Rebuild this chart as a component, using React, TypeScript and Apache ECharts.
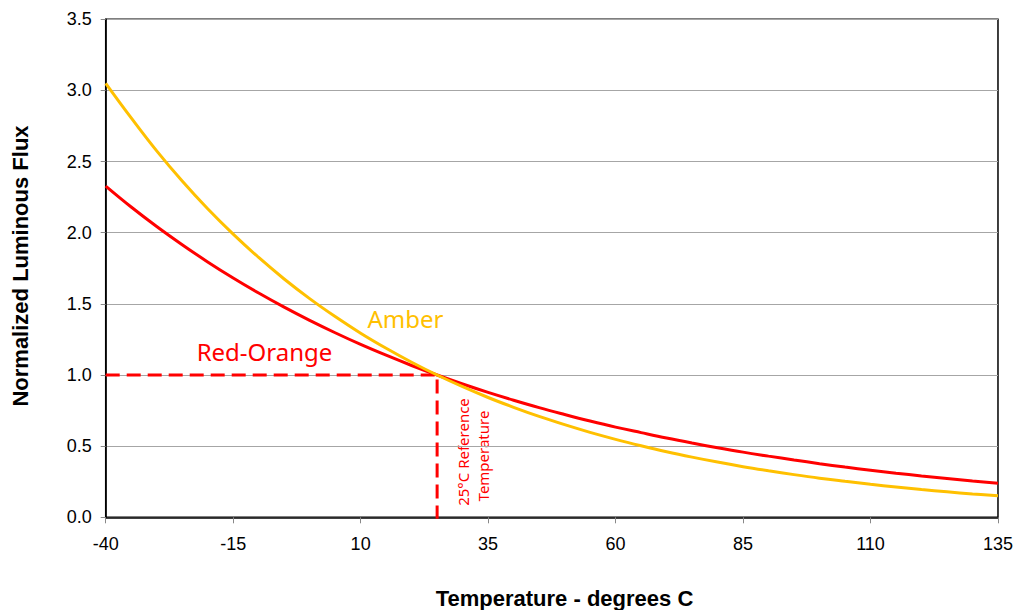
import React, { useEffect, useRef } from "react";
import * as echarts from "echarts";

const temps = [-40, -35, -30, -25, -20, -15, -10, -5, 0, 5, 10, 15, 20, 25, 30, 35, 40, 45, 50, 55, 60, 65, 70, 75, 80, 85, 90, 95, 100, 105, 110, 115, 120, 125, 130, 135];
const redOrange = [2.328, 2.181, 2.044, 1.916, 1.795, 1.682, 1.576, 1.477, 1.384, 1.297, 1.215, 1.139, 1.067, 1.0, 0.937, 0.878, 0.823, 0.771, 0.723, 0.677, 0.634, 0.595, 0.557, 0.522, 0.489, 0.458, 0.43, 0.403, 0.377, 0.353, 0.331, 0.31, 0.291, 0.273, 0.255, 0.239];
const amber = [3.05, 2.807, 2.575, 2.363, 2.168, 1.99, 1.826, 1.675, 1.537, 1.411, 1.294, 1.188, 1.09, 1.0, 0.918, 0.842, 0.773, 0.709, 0.651, 0.597, 0.548, 0.503, 0.461, 0.423, 0.388, 0.356, 0.327, 0.3, 0.275, 0.253, 0.232, 0.213, 0.195, 0.179, 0.164, 0.151];
const refLine = [[-40, 1.0], [25, 1.0], [25, -0.02]];
const xMin = -40;
const xMax = 135;
const xStep = 25;
const yMin = 0;
const yMax = 3.5;
const yStep = 0.5;

const RED = "#FF0000";
const AMBER = "#FFC000";

export default function App() {
  const ref = useRef<HTMLDivElement>(null);
  useEffect(() => {
    if (!ref.current) return;
    const chart = echarts.init(ref.current, null, { renderer: "svg" });
    const shift = (t: number) => t - xMin;
    chart.setOption({
      animation: false,
      grid: { left: 105.7, right: 17.3, top: 19.3, bottom: 92.7, show: true, borderColor: "#000", borderWidth: 1.5 },
      xAxis: {
        type: "value",
        min: 0,
        max: xMax - xMin,
        interval: xStep,
        axisLine: { show: true, onZero: false, lineStyle: { color: "#000", width: 1.5 } },
        axisTick: { show: true, length: 6, lineStyle: { color: "#888" } },
        axisLabel: {
          margin: 18,
          color: "#000",
          fontFamily: "Liberation Sans, Arial, sans-serif",
          fontSize: 18,
          formatter: (v: number) => String(v + xMin),
        },
        splitLine: { show: false },
      },
      yAxis: {
        type: "value",
        min: yMin,
        max: yMax,
        interval: yStep,
        axisLine: { show: true, lineStyle: { color: "#000", width: 1.5 } },
        axisTick: { show: true, length: 5, lineStyle: { color: "#888" } },
        axisLabel: {
          margin: 14,
          color: "#000",
          fontFamily: "Liberation Sans, Arial, sans-serif",
          fontSize: 18,
          formatter: (v: number) => v.toFixed(1),
        },
        splitLine: { show: true, lineStyle: { color: "#a6a6a6", width: 1 } },
      },
      series: [
        {
          name: "Reference",
          type: "line",
          data: refLine.map(([t, v]) => [shift(t), v]),
          symbol: "none",
          lineStyle: { color: RED, width: 3, type: [14, 7] },
          z: 3,
        },
        {
          name: "Red-Orange",
          type: "line",
          data: temps.map((t, i) => [shift(t), redOrange[i]]),
          symbol: "none",
          smooth: 0.4,
          lineStyle: { color: RED, width: 3 },
          z: 4,
        },
        {
          name: "Amber",
          type: "line",
          data: temps.map((t, i) => [shift(t), amber[i]]),
          symbol: "none",
          smooth: 0.4,
          lineStyle: { color: AMBER, width: 3 },
          z: 5,
        },
      ],
      graphic: [
        {
          type: "text",
          x: 20,
          y: 266,
          rotation: Math.PI / 2,
          style: {
            text: "Normalized Luminous Flux",
            font: "bold 22px 'Liberation Sans', Arial, sans-serif",
            fill: "#000",
            align: "center",
            verticalAlign: "middle",
          },
        },
        {
          type: "text",
          x: 564.5,
          y: 598,
          style: {
            text: "Temperature - degrees C",
            font: "bold 22px 'Liberation Sans', Arial, sans-serif",
            fill: "#000",
            align: "center",
            verticalAlign: "middle",
          },
        },
        {
          type: "text",
          x: 405.5,
          y: 318,
          style: {
            text: "Amber",
            font: "24px 'Noto Sans', 'Open Sans', sans-serif",
            fill: AMBER,
            align: "center",
            verticalAlign: "middle",
          },
        },
        {
          type: "text",
          x: 264.5,
          y: 351,
          style: {
            text: "Red-Orange",
            font: "24px 'Noto Sans', 'Open Sans', sans-serif",
            fill: RED,
            align: "center",
            verticalAlign: "middle",
          },
        },
        {
          type: "text",
          x: 463,
          y: 452,
          rotation: Math.PI / 2,
          style: {
            text: "25°C Reference",
            font: "15px 'Noto Sans', 'Open Sans', sans-serif",
            fill: RED,
            align: "center",
            verticalAlign: "middle",
          },
        },
        {
          type: "text",
          x: 483,
          y: 456,
          rotation: Math.PI / 2,
          style: {
            text: "Temperature",
            font: "15px 'Noto Sans', 'Open Sans', sans-serif",
            fill: RED,
            align: "center",
            verticalAlign: "middle",
          },
        },
      ],
    });
    return () => chart.dispose();
  }, []);
  return (
    <div
      ref={ref}
      style={{ position: "fixed", left: 0, top: 0, width: 1016, height: 610, background: "#fff" }}
    />
  );
}
